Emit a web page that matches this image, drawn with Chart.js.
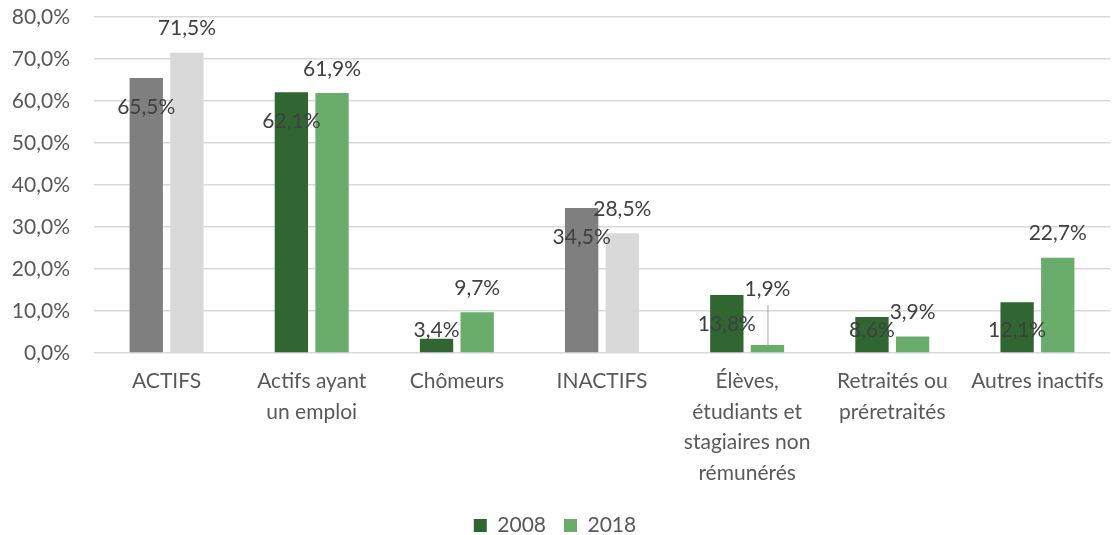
<!DOCTYPE html>
<html>
<head>
<meta charset="utf-8">
<script src="https://cdn.jsdelivr.net/npm/chart.js@4/dist/chart.umd.min.js"></script>
<style>
  body { margin: 0; background: #fff; }
  #wrap { width: 1115px; height: 535px; }
</style>
</head>
<body>
<div id="wrap"><canvas id="chart"></canvas></div>
<script>
// categories (multi-line labels)
const categories = [
  "ACTIFS",
  ["Actifs ayant", "un emploi"],
  "Chômeurs",
  "INACTIFS",
  ["Élèves,", "étudiants et", "stagiaires non", "rémunérés"],
  ["Retraités ou", "préretraités"],
  "Autres inactifs"
];
const values2008 = [65.5, 62.1, 3.4, 34.5, 13.8, 8.6, 12.1];
const values2018 = [71.5, 61.9, 9.7, 28.5, 1.9, 3.9, 22.7];
// gray = aggregate groups, green = sub-groups
const groupType = ["total", "detail", "detail", "total", "detail", "detail", "detail"];
const yTicks = [0, 10, 20, 30, 40, 50, 60, 70, 80];

const colors = {
  total:  ["#7f7f7f", "#d9d9d9"],
  detail: ["#2f6631", "#69ad6b"]
};

const fmt = v => v.toFixed(1).replace(".", ",") + "%";
const FONT = "Lato";
const SIZE = 21;

// data labels drawn by hand (Excel-like placement)
const barLabels = {
  id: "barLabels",
  afterDatasetsDraw(chart) {
    const ctx = chart.ctx;
    const y = chart.scales.y;
    const floorY = y.getPixelForValue(5.5);
    ctx.save();
    ctx.font = SIZE + "px " + FONT;
    ctx.fillStyle = "#404040";
    ctx.textAlign = "center";
    ctx.textBaseline = "middle";
    chart.data.datasets.forEach((ds, di) => {
      const meta = chart.getDatasetMeta(di);
      meta.data.forEach((bar, i) => {
        let ly;
        if (di === 0) {
          ly = Math.min(bar.y + 29, floorY);
        } else if (i === 4) {
          ly = bar.y - 56;
          ctx.strokeStyle = "#a6a6a6";
          ctx.lineWidth = 1;
          ctx.beginPath();
          ctx.moveTo(bar.x + 0.5, ly + 16);
          ctx.lineTo(bar.x + 0.5, bar.y);
          ctx.stroke();
        } else {
          ly = bar.y - 24;
        }
        ctx.fillText(fmt(ds.data[i]), bar.x, ly);
      });
    });
    ctx.restore();
  }
};

new Chart(document.getElementById("chart"), {
  type: "bar",
  data: {
    labels: categories,
    datasets: [{
      label: "2008",
      data: values2008,
      backgroundColor: groupType.map(g => colors[g][0]),
      categoryPercentage: 0.56,
      barPercentage: 0.82
    }, {
      label: "2018",
      data: values2018,
      backgroundColor: groupType.map(g => colors[g][1]),
      categoryPercentage: 0.56,
      barPercentage: 0.82
    }]
  },
  options: {
    responsive: true,
    maintainAspectRatio: false,
    animation: false,
    layout: {
      padding: { top: 17, right: 5, left: 0, bottom: -11 }
    },
    scales: {
      x: {
        grid: { display: false },
        border: { display: false },
        afterFit: s => { s.height = 144; },
        ticks: {
          color: "#595959",
          padding: 5,
          maxRotation: 0,
          autoSkip: false,
          font: { family: FONT, size: SIZE, lineHeight: 1.46 }
        }
      },
      y: {
        min: 0,
        max: 80,
        afterFit: s => { s.width = 94; s.paddingTop = 0; s.paddingBottom = 0; },
        afterBuildTicks: s => { s.ticks = yTicks.map(v => ({ value: v })); },
        grid: { color: "#d9d9d9", lineWidth: 1.5, drawTicks: false },
        border: { display: false },
        ticks: {
          color: "#595959",
          padding: 24,
          font: { family: FONT, size: SIZE },
          callback: v => fmt(v)
        }
      }
    },
    plugins: {
      legend: {
        position: "bottom",
        labels: {
          color: "#595959",
          boxWidth: 13,
          boxHeight: 13,
          padding: 18,
          font: { family: FONT, size: SIZE },
          generateLabels: chart => chart.data.datasets.map((ds, i) => ({
            text: ds.label,
            fillStyle: colors.detail[i],
            strokeStyle: colors.detail[i],
            lineWidth: 0,
            fontColor: "#595959",
            datasetIndex: i
          }))
        }
      },
      tooltip: { enabled: false }
    }
  },
  plugins: [barLabels]
});
</script>
</body>
</html>
